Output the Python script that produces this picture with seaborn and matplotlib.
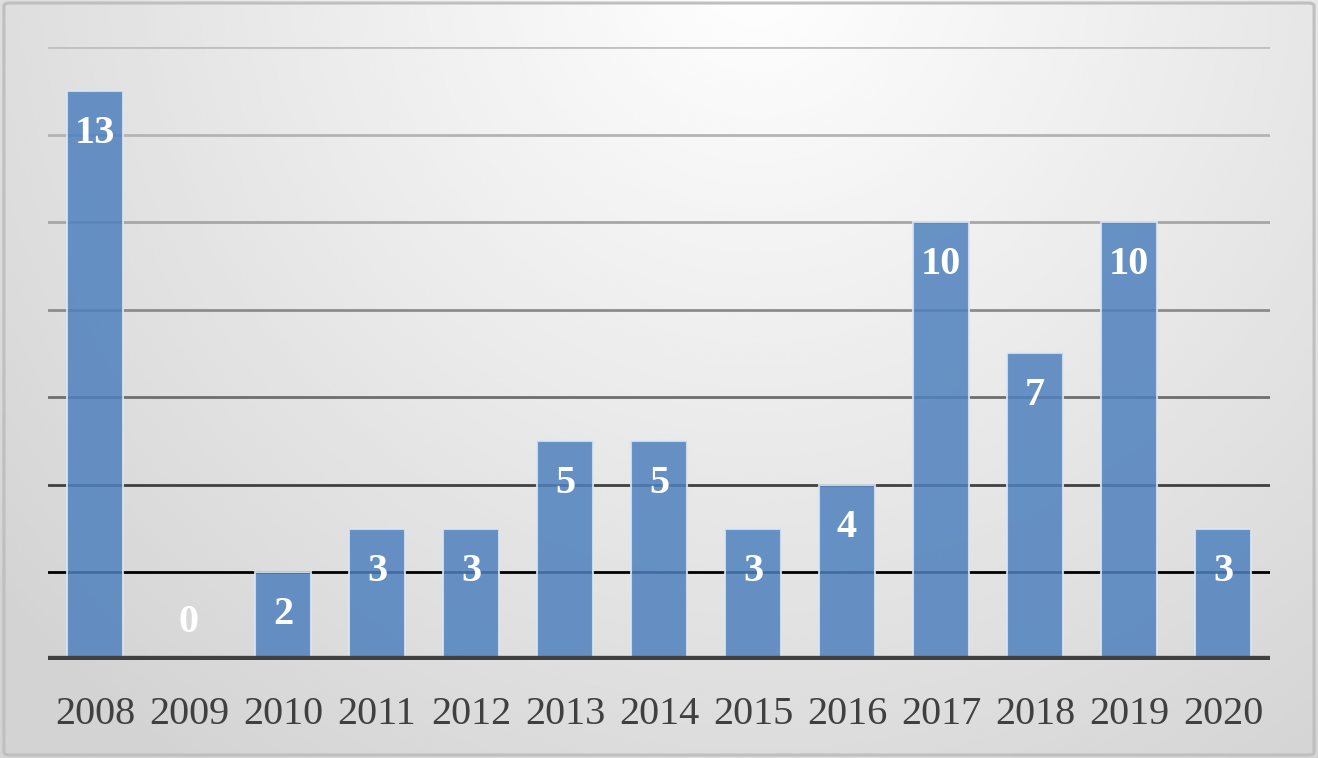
import numpy as np
import pandas as pd
import matplotlib
matplotlib.use("Agg")
import matplotlib.pyplot as plt
from matplotlib.patches import FancyBboxPatch
import seaborn as sns

# data
years = ["2008", "2009", "2010", "2011", "2012", "2013", "2014",
         "2015", "2016", "2017", "2018", "2019", "2020"]
counts = [13, 0, 2, 3, 3, 5, 5, 3, 4, 10, 7, 10, 3]

df = pd.DataFrame({"year": years, "count": counts})

sns.set_style("white")
plt.rcParams["font.family"] = ["Liberation Serif", "DejaVu Serif"]

fig = plt.figure(figsize=(13.18, 7.58), dpi=100)

# radial gradient background
bg = fig.add_axes([0, 0, 1, 1], zorder=-10)
gx, gy = np.meshgrid(np.linspace(0, 1.74, 400), np.linspace(0, 1, 300))
r = np.sqrt((gx - 1.0) ** 2 + (gy - 1.05) ** 2)
shade = 1.0 - 0.17 * np.clip(r / 1.3, 0, 1)
bg.imshow(shade, cmap="gray", vmin=0, vmax=1, origin="lower",
          extent=[0, 1, 0, 1], aspect="auto", interpolation="bicubic")
bg.set_xlim(0, 1)
bg.set_ylim(0, 1)
bg.axis("off")
bg.add_patch(FancyBboxPatch((0.003, 0.004), 0.994, 0.992,
                            boxstyle="round,pad=0,rounding_size=0.004",
                            transform=bg.transAxes, fill=False,
                            edgecolor="#bfbfbf", linewidth=2.2))

ax = fig.add_axes([0.0364, 0.1293, 0.9272, 0.8087])
ax.patch.set_alpha(0)

# gridlines, lighter at the top, darker near the base
ax.set_ylim(0, 14)
ticks = list(range(2, 15, 2))
grid_cols = ["#000000", "#404040", "#6e6e6e", "#8c8c8c", "#a6a6a6", "#b4b4b4", "#c0c0c0"]
for t, c in zip(ticks, grid_cols):
    ax.axhline(t, color=c, linewidth=2, zorder=0)

sns.barplot(data=df, x="year", y="count", width=0.59, color="#4f81bd",
            saturation=1, alpha=0.85, edgecolor="#dce6f2", linewidth=1.5,
            ax=ax, zorder=2)

ax.axhline(0, color="#404040", linewidth=6, zorder=3)

for i, v in enumerate(counts):
    ax.text(i, max(v - 0.97, 0.85), str(v), ha="center", va="center",
            color="white", fontsize=29, fontweight="bold", zorder=4)

ax.set_xlim(-0.5, len(years) - 0.5)
ax.set_yticks([])
ax.set_xlabel("")
ax.set_ylabel("")
ax.tick_params(axis="x", length=0, pad=26, labelsize=29, labelcolor="#404040")
for s in ax.spines.values():
    s.set_visible(False)

fig.savefig("out.png", dpi=100)
